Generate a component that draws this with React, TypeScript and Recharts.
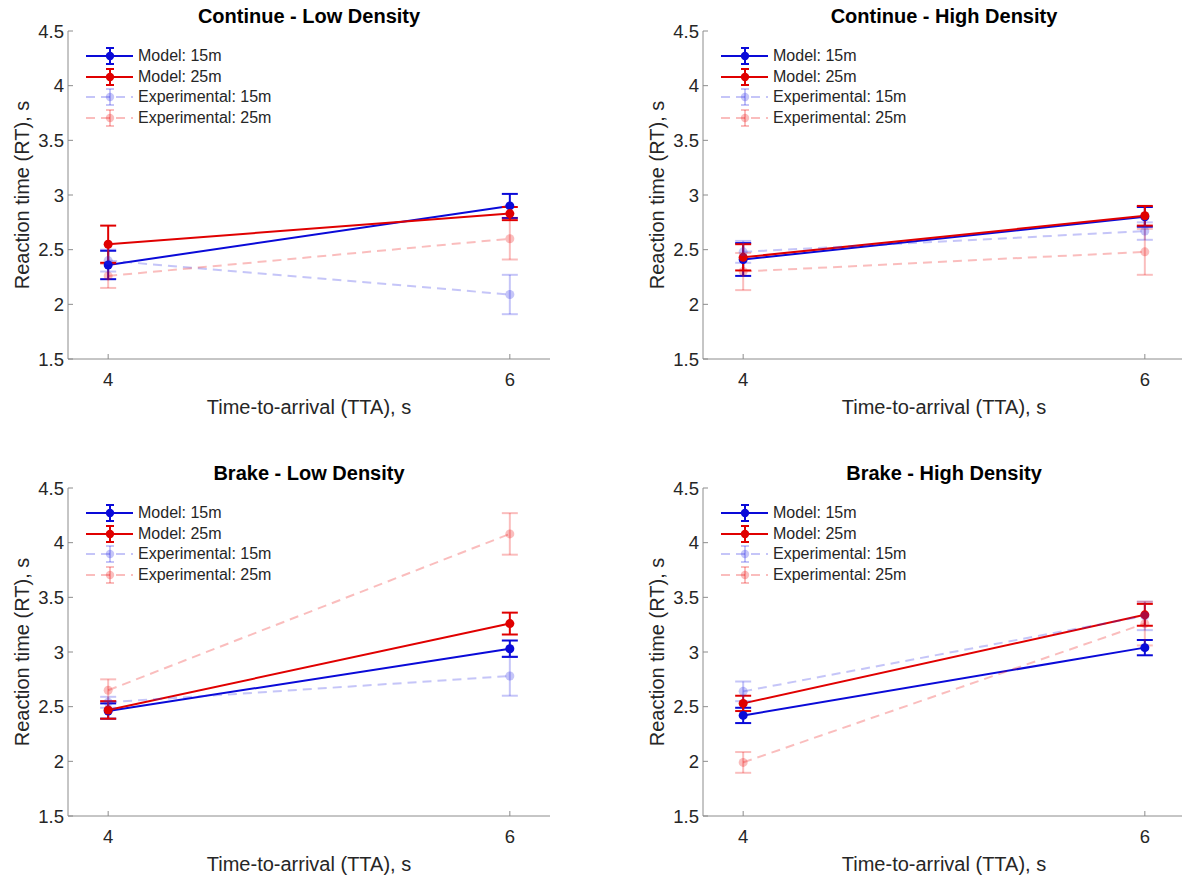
import React from 'react';
import { LineChart, Line, XAxis, YAxis, ErrorBar, Legend } from 'recharts';

// ---------- data ----------
const TTA_VALUES = [4, 6];
const Y_TICKS = [1.5, 2, 2.5, 3, 3.5, 4, 4.5];
const X_DOMAIN = [3.8, 6.2];
const Y_DOMAIN = [1.5, 4.5];

const SERIES_LABELS = ['Model: 15m', 'Model: 25m', 'Experimental: 15m', 'Experimental: 25m'];
const PANEL_TITLES = [
  'Continue - Low Density',
  'Continue - High Density',
  'Brake - Low Density',
  'Brake - High Density',
];
const X_TITLE = 'Time-to-arrival (TTA), s';
const Y_TITLE = 'Reaction time (RT), s';

// rows: Model 15m, Model 25m, Experimental 15m, Experimental 25m ; columns: TTA 4, TTA 6
const continueLowMeans = [[2.36, 2.90], [2.55, 2.83], [2.40, 2.09], [2.26, 2.60]];
const continueLowErrors = [[0.13, 0.11], [0.17, 0.06], [0.10, 0.18], [0.11, 0.19]];

const continueHighMeans = [[2.41, 2.80], [2.43, 2.81], [2.48, 2.67], [2.30, 2.48]];
const continueHighErrors = [[0.15, 0.09], [0.12, 0.09], [0.10, 0.08], [0.17, 0.21]];

const brakeLowMeans = [[2.46, 3.03], [2.47, 3.26], [2.54, 2.78], [2.65, 4.08]];
const brakeLowErrors = [[0.07, 0.075], [0.08, 0.10], [0.05, 0.18], [0.10, 0.19]];

const brakeHighMeans = [[2.42, 3.04], [2.53, 3.34], [2.64, 3.33], [1.99, 3.26]];
const brakeHighErrors = [[0.07, 0.07], [0.07, 0.10], [0.09, 0.13], [0.095, 0.20]];

// ---------- styles ----------
const SERIES_STYLES = [
  { color: '#0a0ad8', dash: undefined },
  { color: '#e00000', dash: undefined },
  { color: 'rgba(40,40,230,0.27)', dash: '9 6' },
  { color: 'rgba(235,0,0,0.26)', dash: '9 6' },
];

const FONT = '"Liberation Sans", Arial, Helvetica, sans-serif';
const AXIS_COLOR = '#8c8c8c';
const TEXT_COLOR = '#262626';
const TICK_FONT = 18.5;

const CHART_W = 560;
const CHART_H = 430;
const PLOT_LEFT = 68;
const PLOT_W = 482;
const PLOT_TOP = 31;
const PLOT_H = 328;

function XTick(props: any) {
  const { x, y, payload } = props;
  return (
    <text x={x} y={y} dy="0.71em" textAnchor="middle" fontSize={TICK_FONT} fill={TEXT_COLOR} fontFamily={FONT}>
      {payload.value}
    </text>
  );
}

function YTick(props: any) {
  const { x, y, payload } = props;
  return (
    <text x={x} y={y} dy="0.36em" textAnchor="end" fontSize={TICK_FONT} fill={TEXT_COLOR} fontFamily={FONT}>
      {payload.value}
    </text>
  );
}

function LegendContent() {
  return (
    <div style={{ fontFamily: FONT, fontSize: 16, color: TEXT_COLOR }}>
      {SERIES_LABELS.map((label, i) => {
        const s = SERIES_STYLES[i];
        return (
          <div key={label} style={{ display: 'flex', alignItems: 'center', height: 20.6 }}>
            <svg width={52} height={20} style={{ display: 'block' }}>
              <line x1={0} y1={10} x2={47} y2={10} stroke={s.color} strokeWidth={2} strokeDasharray={s.dash} />
              <line x1={24} y1={2} x2={24} y2={18} stroke={s.color} strokeWidth={2} />
              <line x1={20} y1={2} x2={28} y2={2} stroke={s.color} strokeWidth={2} />
              <line x1={20} y1={18} x2={28} y2={18} stroke={s.color} strokeWidth={2} />
              <circle cx={24} cy={10} r={4.2} fill={s.color} />
            </svg>
            <span style={{ whiteSpace: 'nowrap' }}>{label}</span>
          </div>
        );
      })}
    </div>
  );
}

type PanelProps = {
  left: number;
  top: number;
  title: string;
  means: number[][];
  errors: number[][];
};

function Panel({ left, top, title, means, errors }: PanelProps) {
  const data = TTA_VALUES.map((t, i) => {
    const row: Record<string, number> = { tta: t };
    means.forEach((m, k) => {
      row[`s${k}`] = m[i];
      row[`s${k}e`] = errors[k][i];
    });
    return row;
  });

  return (
    <div style={{ position: 'absolute', left, top, width: CHART_W, height: CHART_H }}>
      <LineChart
        width={CHART_W}
        height={CHART_H}
        data={data}
        margin={{ top: PLOT_TOP, right: 10, bottom: 41, left: 8 }}
      >
        <XAxis
          dataKey="tta"
          type="number"
          domain={X_DOMAIN}
          ticks={TTA_VALUES}
          allowDataOverflow
          height={30}
          tickSize={-5}
          tickMargin={19}
          stroke={AXIS_COLOR}
          tick={<XTick />}
        />
        <YAxis
          type="number"
          domain={Y_DOMAIN}
          ticks={Y_TICKS}
          allowDataOverflow
          width={60}
          tickSize={-5}
          tickMargin={9}
          stroke={AXIS_COLOR}
          tick={<YTick />}
        />
        {SERIES_STYLES.map((s, k) => (
          <Line
            key={k}
            dataKey={`s${k}`}
            name={SERIES_LABELS[k]}
            stroke={s.color}
            strokeWidth={2}
            strokeDasharray={s.dash}
            dot={{ r: 4.5, fill: s.color, stroke: 'none' }}
            activeDot={false}
            isAnimationActive={false}
          >
            <ErrorBar
              dataKey={`s${k}e`}
              width={8}
              strokeWidth={2}
              stroke={s.color}
              direction="y"
              isAnimationActive={false}
            />
          </Line>
        ))}
        <Legend
          layout="vertical"
          align="center"
          verticalAlign="middle"
          content={<LegendContent />}
          wrapperStyle={{ left: PLOT_LEFT + 18, top: PLOT_TOP + 15, width: 260, height: 90 }}
        />
      </LineChart>

      <div
        style={{
          position: 'absolute',
          left: PLOT_LEFT,
          top: 6,
          width: PLOT_W,
          textAlign: 'center',
          fontSize: 20,
          lineHeight: '20px',
          fontWeight: 'bold',
          color: '#000',
          whiteSpace: 'nowrap',
        }}
      >
        {title}
      </div>
      <div
        style={{
          position: 'absolute',
          left: PLOT_LEFT,
          top: 397,
          width: PLOT_W,
          textAlign: 'center',
          fontSize: 20,
          lineHeight: '20px',
          color: TEXT_COLOR,
          whiteSpace: 'nowrap',
        }}
      >
        {X_TITLE}
      </div>
      <div
        style={{
          position: 'absolute',
          left: 21.7 - 150,
          top: PLOT_TOP + PLOT_H / 2 - 12,
          width: 300,
          height: 24,
          lineHeight: '24px',
          textAlign: 'center',
          fontSize: 20,
          color: TEXT_COLOR,
          transform: 'rotate(-90deg)',
          whiteSpace: 'nowrap',
        }}
      >
        {Y_TITLE}
      </div>
    </div>
  );
}

export default function App() {
  return (
    <div
      style={{
        position: 'absolute',
        left: 0,
        top: 0,
        width: 1182,
        height: 880,
        overflow: 'hidden',
        background: '#fff',
        fontFamily: FONT,
      }}
    >
      <Panel left={0} top={0} title={PANEL_TITLES[0]} means={continueLowMeans} errors={continueLowErrors} />
      <Panel left={635} top={0} title={PANEL_TITLES[1]} means={continueHighMeans} errors={continueHighErrors} />
      <Panel left={0} top={457} title={PANEL_TITLES[2]} means={brakeLowMeans} errors={brakeLowErrors} />
      <Panel left={635} top={457} title={PANEL_TITLES[3]} means={brakeHighMeans} errors={brakeHighErrors} />
    </div>
  );
}
